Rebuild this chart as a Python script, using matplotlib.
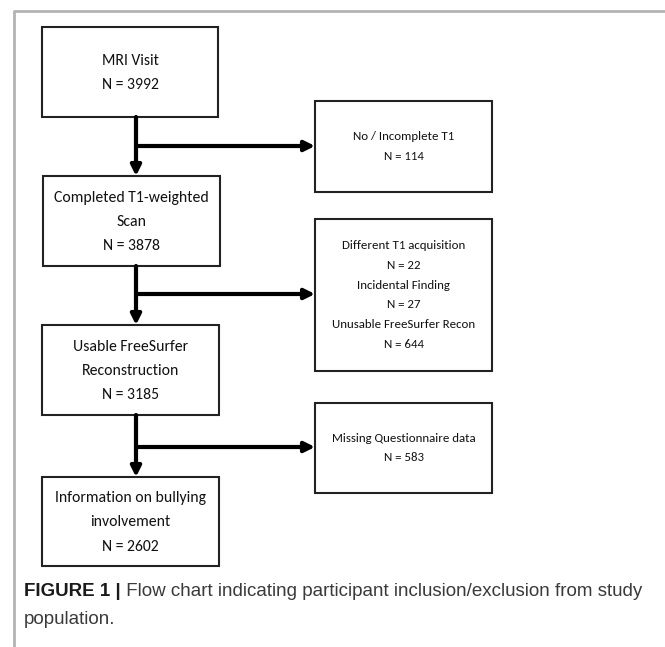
import matplotlib
matplotlib.use("Agg")
import matplotlib.pyplot as plt
from matplotlib.patches import Rectangle

# Data
main_labels = ["MRI Visit", "Completed T1-weighted\nScan", "Usable FreeSurfer\nReconstruction",
               "Information on bullying\ninvolvement"]
main_n = [3992, 3878, 3185, 2602]
excl_labels = [["No / Incomplete T1"],
               ["Different T1 acquisition", "Incidental Finding", "Unusable FreeSurfer Recon"],
               ["Missing Questionnaire data"]]
excl_n = [[114], [22, 27, 644], [583]]
caption_bold = "FIGURE 1 |"
caption_text = " Flow chart indicating participant inclusion/exclusion from study"
caption_text2 = "population."

W, H = 665, 647
fig = plt.figure(figsize=(W / 100, H / 100), dpi=100)
ax = fig.add_axes([0, 0, 1, 1])
ax.set_xlim(0, W)
ax.set_ylim(H, 0)
ax.axis("off")

# gray frame
ax.plot([14, 14, W + 5], [H + 5, 11, 11], color="#b3b3b3", lw=2, solid_capstyle="butt")

box_font = ["Carlito", "Lato", "DejaVu Sans"]
main_boxes = [(42, 27, 218, 117), (43, 176, 220, 266), (42, 325, 219, 415), (42, 477, 219, 566)]
excl_boxes = [(315, 101, 492, 192), (315, 219, 492, 371), (315, 403, 492, 493)]
arrow_y = [146, 294, 447]
cx = 136

for (x0, y0, x1, y1), lab, n in zip(main_boxes, main_labels, main_n):
    ax.add_patch(Rectangle((x0, y0), x1 - x0, y1 - y0, fill=False, ec="#222222", lw=1.5))
    ax.text((x0 + x1) / 2, (y0 + y1) / 2 + 1, f"{lab}\nN = {n}", ha="center", va="center",
            fontsize=11.3, family=box_font, color="#111111", linespacing=1.92)

for (x0, y0, x1, y1), labs, ns in zip(excl_boxes, excl_labels, excl_n):
    ax.add_patch(Rectangle((x0, y0), x1 - x0, y1 - y0, fill=False, ec="#222222", lw=1.5))
    txt = "\n".join(f"{l}\nN = {n}" for l, n in zip(labs, ns))
    ax.text((x0 + x1) / 2, (y0 + y1) / 2, txt, ha="center", va="center",
            fontsize=9.3, family=box_font, color="#111111", linespacing=1.99)

# vertical arrows and branch arrows
for i, ay in enumerate(arrow_y):
    top = main_boxes[i][3]
    bot = main_boxes[i + 1][1]
    ax.annotate("", xy=(cx, bot), xytext=(cx, top),
                arrowprops=dict(arrowstyle="-|>,head_length=0.6,head_width=0.3", lw=3,
                                color="black", shrinkA=0, shrinkB=0))
    ax.annotate("", xy=(excl_boxes[i][0], ay), xytext=(cx, ay),
                arrowprops=dict(arrowstyle="-|>,head_length=0.6,head_width=0.3", lw=3,
                                color="black", shrinkA=0, shrinkB=0))

# caption
t = ax.text(24, 592, caption_bold, ha="left", va="center", fontsize=13.5, weight="bold",
            family="Liberation Sans", color="#1a1a1a")
fig.canvas.draw()
bb = t.get_window_extent()
xd = ax.transData.inverted().transform((bb.x1, 0))[0]
ax.text(xd, 592, caption_text, ha="left", va="center", fontsize=13.5,
        family="Liberation Sans", color="#3a3a3a")
ax.text(24, 620, caption_text2, ha="left", va="center", fontsize=13.5,
        family="Liberation Sans", color="#3a3a3a")

fig.savefig("out.png", dpi=100)
